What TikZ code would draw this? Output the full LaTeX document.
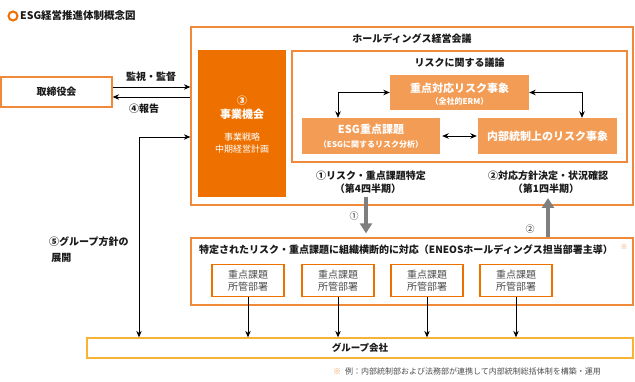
\documentclass[tikz,border=0pt]{standalone}
\usepackage{fontspec}
\setmainfont{Noto Sans CJK JP}
\usetikzlibrary{arrows.meta,calc}
\definecolor{ordark}{HTML}{EE7100}
\definecolor{orlight}{HTML}{F29C55}
\definecolor{orline}{HTML}{F08A3A}
\definecolor{gold}{HTML}{F9B233}
\definecolor{grayarr}{HTML}{7F7F7F}
\definecolor{txt}{HTML}{1A1A1A}
\definecolor{subtxt}{HTML}{4D4D4D}
\tikzset{
  box/.style={draw=orline,line width=1.3pt,inner sep=0pt,rectangle},
  fillbox/.style={fill=orlight,draw=none,inner sep=0pt,rectangle,text=white},
  lbl/.style={inner sep=0pt,text=txt,font=\fontsize{10}{12}\selectfont\bfseries},
  conn/.style={line width=0.9pt,draw=black,-{Stealth[length=6.5pt,width=5.5pt]}},
  biconn/.style={line width=0.9pt,draw=black,{Stealth[length=6.5pt,width=5.5pt]}-{Stealth[length=6.5pt,width=5.5pt]}},
  bigarr/.style={line width=4pt,draw=grayarr,-{Triangle[length=10pt,width=12pt]}},
  smallbox/.style={draw=ordark,line width=1.3pt,inner sep=0pt,minimum width=72pt,minimum height=32pt,align=center,text=subtxt,font=\fontsize{10}{12}\selectfont}
}
\begin{document}
\begin{tikzpicture}[x=1pt,y=-1pt]
\useasboundingbox (0,0) rectangle (635,382);
% title
\draw[ordark,line width=2pt] (13,16) circle (4.5pt);
\node[lbl,anchor=west,font=\fontsize{10.5}{12}\selectfont\bfseries] (title) at (20,16) {ESG経営推進体制概念図};
% holdings
\node[box,minimum width=442pt,minimum height=178pt] (hd) at (412,116) {};
\node[lbl] (hdt) at (412,39) {ホールディングス経営会議};
% jigyo
\node[fill=ordark,inner sep=0pt,minimum width=88pt,minimum height=147pt] (jg) at (242,123.5) {};
\node[inner sep=0pt,text=white,font=\fontsize{10}{12}\selectfont\bfseries] (jg1) at (242,101) {③};
\node[inner sep=0pt,text=white,font=\fontsize{11}{12}\selectfont\bfseries] (jg2) at (242,114) {事業機会};
\node[inner sep=0pt,text=white,font=\fontsize{9}{12}\selectfont] (jg3) at (242,137) {事業戦略};
\node[inner sep=0pt,text=white,font=\fontsize{9}{12}\selectfont] (jg4) at (242,149) {中期経営計画};
% risk box
\node[box,line width=1.1pt,minimum width=335pt,minimum height=111pt] (rk) at (459.5,106.5) {};
\node[lbl] (rkt) at (459.5,63) {リスクに関する議論};
\node[fillbox,minimum width=139pt,minimum height=35pt] (erm) at (459.5,92.5) {};
\node[inner sep=0pt,text=white,font=\fontsize{11}{12}\selectfont\bfseries] (erm1) at (459.5,88) {重点対応リスク事象};
\node[inner sep=0pt,text=white,font=\fontsize{8}{9}\selectfont\bfseries] (erm2) at (459.5,101) {（全社的ERM）};
\node[fillbox,minimum width=138pt,minimum height=36pt] (esg) at (371,136) {};
\node[inner sep=0pt,text=white,font=\fontsize{11}{12}\selectfont\bfseries] (esg1) at (371,129) {ESG重点課題};
\node[inner sep=0pt,text=white,font=\fontsize{8}{9}\selectfont\bfseries] (esg2) at (371,144) {（ESGに関するリスク分析）};
\node[fillbox,minimum width=139pt,minimum height=36pt,font=\fontsize{11}{12}\selectfont\bfseries] (nb) at (547.5,136) {内部統制上のリスク事象};
\draw[biconn] (esg.north -| 338,0) |- (erm.west);
\draw[biconn] (erm.east) -| (nb.north -| 582,0);
\draw[biconn,shorten <=2pt,shorten >=1pt] (esg.east) -- (nb.west);
% step labels
\node[lbl] (l1a) at (371,176) {①リスク・重点課題特定};
\node[lbl] (l1b) at (368,189) {（第4四半期）};
\node[lbl] (l2a) at (548,176) {②対応方針決定・状況確認};
\node[lbl] (l2b) at (546,189) {（第1四半期）};
% board
\node[box,minimum width=111pt,minimum height=30pt,font=\fontsize{10}{12}\selectfont\bfseries,text=txt] (tr) at (56.5,92) {取締役会};
\draw[conn] ([yshift=5pt]tr.east) -- ([yshift=5pt]tr.east -| hd.west);
\draw[conn] ([yshift=-5pt]tr.east -| hd.west) -- ([yshift=-5pt]tr.east);
\node[lbl] (kan) at (151,77) {監視・監督};
\node[lbl] (hok) at (144,109) {④報告};
% specified box
\node[box,minimum width=442pt,minimum height=67pt] (sp) at (412,271.5) {};
\node[lbl,anchor=west] (spt) at (199,250) {特定されたリスク・重点課題に組織横断的に対応（ENEOSホールディングス担当部署主導）};
\node[inner sep=0pt,text=orlight,font=\fontsize{7}{8}\selectfont] (spm) at (624,247) {※};
\node[smallbox] (s1) at (248,280.5) {重点課題\\所管部署};
\node[smallbox] (s2) at (338,280.5) {重点課題\\所管部署};
\node[smallbox] (s3) at (427,280.5) {重点課題\\所管部署};
\node[smallbox] (s4) at (516,280.5) {重点課題\\所管部署};
% gray arrows
\coordinate (a1) at (366,197);
\coordinate (a2) at (548,198);
\draw[bigarr,shorten >=4pt] (a1) -- (a1 |- sp.north);
\draw[bigarr] (a2 |- sp.north) -- (a2);
\node[inner sep=0pt,text=txt,font=\fontsize{9}{10}\selectfont] (n1) at (354,216) {①};
\node[inner sep=0pt,text=txt,font=\fontsize{9}{10}\selectfont] (n2) at (530,229) {②};
% group
\node[draw=gold,line width=1.3pt,inner sep=0pt,minimum width=546pt,minimum height=20pt,font=\fontsize{9.5}{12}\selectfont\bfseries,text=txt] (gr) at (360,348) {グループ会社};
\foreach \s in {s1,s2,s3,s4} \draw[conn] (\s.south) -- (\s.south |- gr.north);
\coordinate (c5) at (139,137);
\draw[biconn] (c5 -| hd.west) -- (c5) -- (c5 |- gr.north);
\node[lbl,anchor=west,align=left,font=\fontsize{10}{16}\selectfont\bfseries] (l5) at (49,250) {⑤グループ方針の\\\ 展開};
% footnote
\node[inner sep=0pt,anchor=west,font=\fontsize{8}{10}\selectfont] (fn) at (333,371) {\textcolor{orlight}{※}\hspace{4pt}\textcolor{subtxt}{例：内部統制部および法務部が連携して内部統制総括体制を構築・運用}};
\end{tikzpicture}
\end{document}
